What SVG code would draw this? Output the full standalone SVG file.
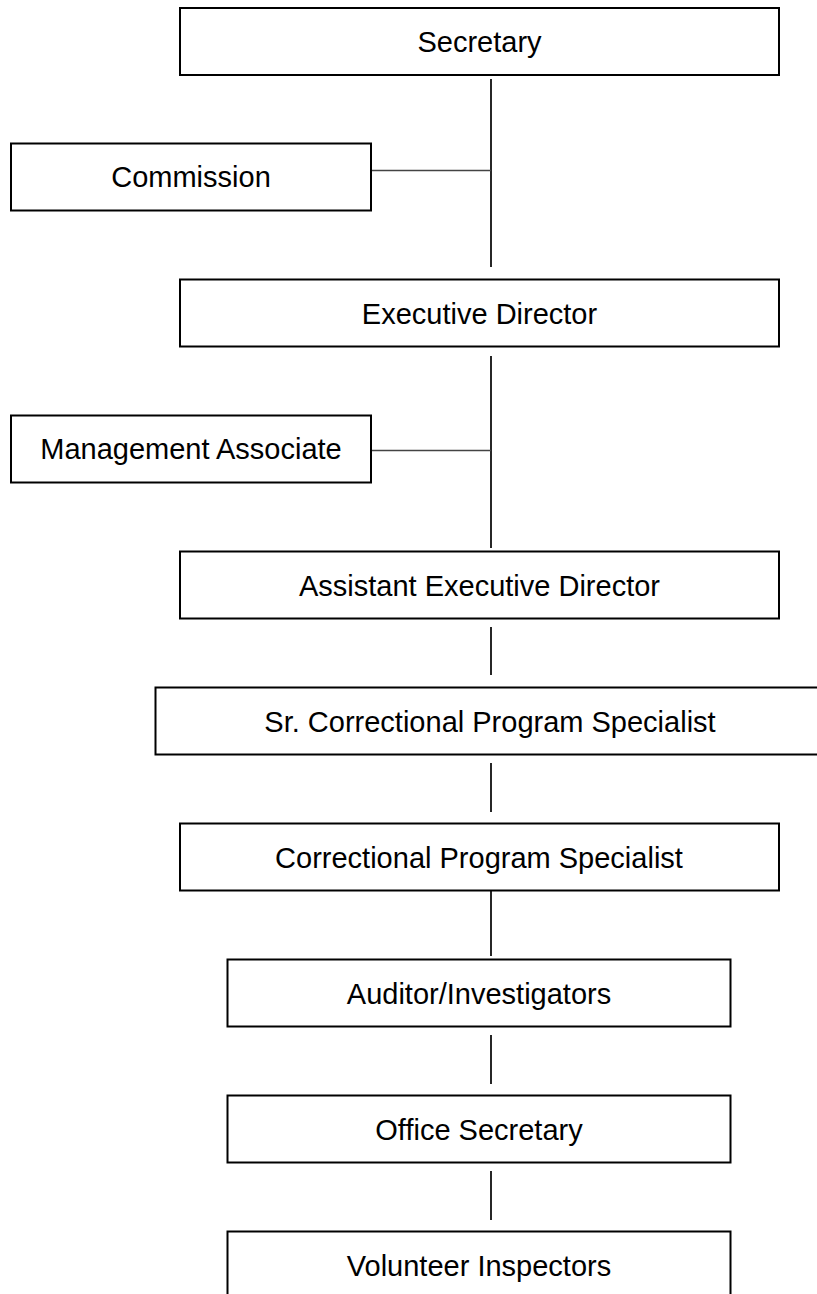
<svg xmlns="http://www.w3.org/2000/svg" width="817" height="1294" viewBox="0 0 817 1294">
<style>
.box{fill:#fff;stroke:#000;stroke-width:2}
.lbl{font-family:"Liberation Sans",Arial,sans-serif;font-size:29px;fill:#000;text-anchor:middle}
.v{stroke:#000;stroke-width:1.7;fill:none}
.h{stroke:#444;stroke-width:1.7;fill:none}
</style>
<rect width="817" height="1294" fill="#fff"/>
<g id="connectors">
<line class="v" x1="491" y1="79" x2="491" y2="267"/>
<line class="h" x1="371" y1="170.5" x2="491" y2="170.5"/>
<line class="v" x1="491" y1="356" x2="491" y2="548"/>
<line class="h" x1="371" y1="450.5" x2="491" y2="450.5"/>
<line class="v" x1="491" y1="627" x2="491" y2="675"/>
<line class="v" x1="491" y1="763" x2="491" y2="812"/>
<line class="v" x1="491" y1="891" x2="491" y2="956"/>
<line class="v" x1="491" y1="1035" x2="491" y2="1084"/>
<line class="v" x1="491" y1="1171" x2="491" y2="1220"/>
</g>
<g id="secretary">
<rect class="box" x="180" y="8" width="599" height="67"/>
<text class="lbl" x="479.5" y="51.5">Secretary</text>
</g>
<g id="commission">
<rect class="box" x="11" y="143.5" width="360" height="67"/>
<text class="lbl" x="191" y="187">Commission</text>
</g>
<g id="executive-director">
<rect class="box" x="180" y="279.5" width="599" height="67"/>
<text class="lbl" x="479.5" y="323.5">Executive Director</text>
</g>
<g id="management-associate">
<rect class="box" x="11" y="415.5" width="360" height="67"/>
<text class="lbl" x="191" y="459">Management Associate</text>
</g>
<g id="assistant-executive-director">
<rect class="box" x="180" y="551.5" width="599" height="67"/>
<text class="lbl" x="479.5" y="595.5">Assistant Executive Director</text>
</g>
<g id="sr-correctional-program-specialist">
<rect class="box" x="155.5" y="687.5" width="700" height="67"/>
<text class="lbl" x="490" y="731.5">Sr. Correctional Program Specialist</text>
</g>
<g id="correctional-program-specialist">
<rect class="box" x="180" y="823.5" width="599" height="67"/>
<text class="lbl" x="479" y="867.5">Correctional Program Specialist</text>
</g>
<g id="auditor-investigators">
<rect class="box" x="227.5" y="959.5" width="503" height="67"/>
<text class="lbl" x="479" y="1003.5">Auditor/Investigators</text>
</g>
<g id="office-secretary">
<rect class="box" x="227.5" y="1095.5" width="503" height="67"/>
<text class="lbl" x="479" y="1139.5">Office Secretary</text>
</g>
<g id="volunteer-inspectors">
<rect class="box" x="227.5" y="1231.5" width="503" height="67"/>
<text class="lbl" x="479" y="1275.5">Volunteer Inspectors</text>
</g>
</svg>
